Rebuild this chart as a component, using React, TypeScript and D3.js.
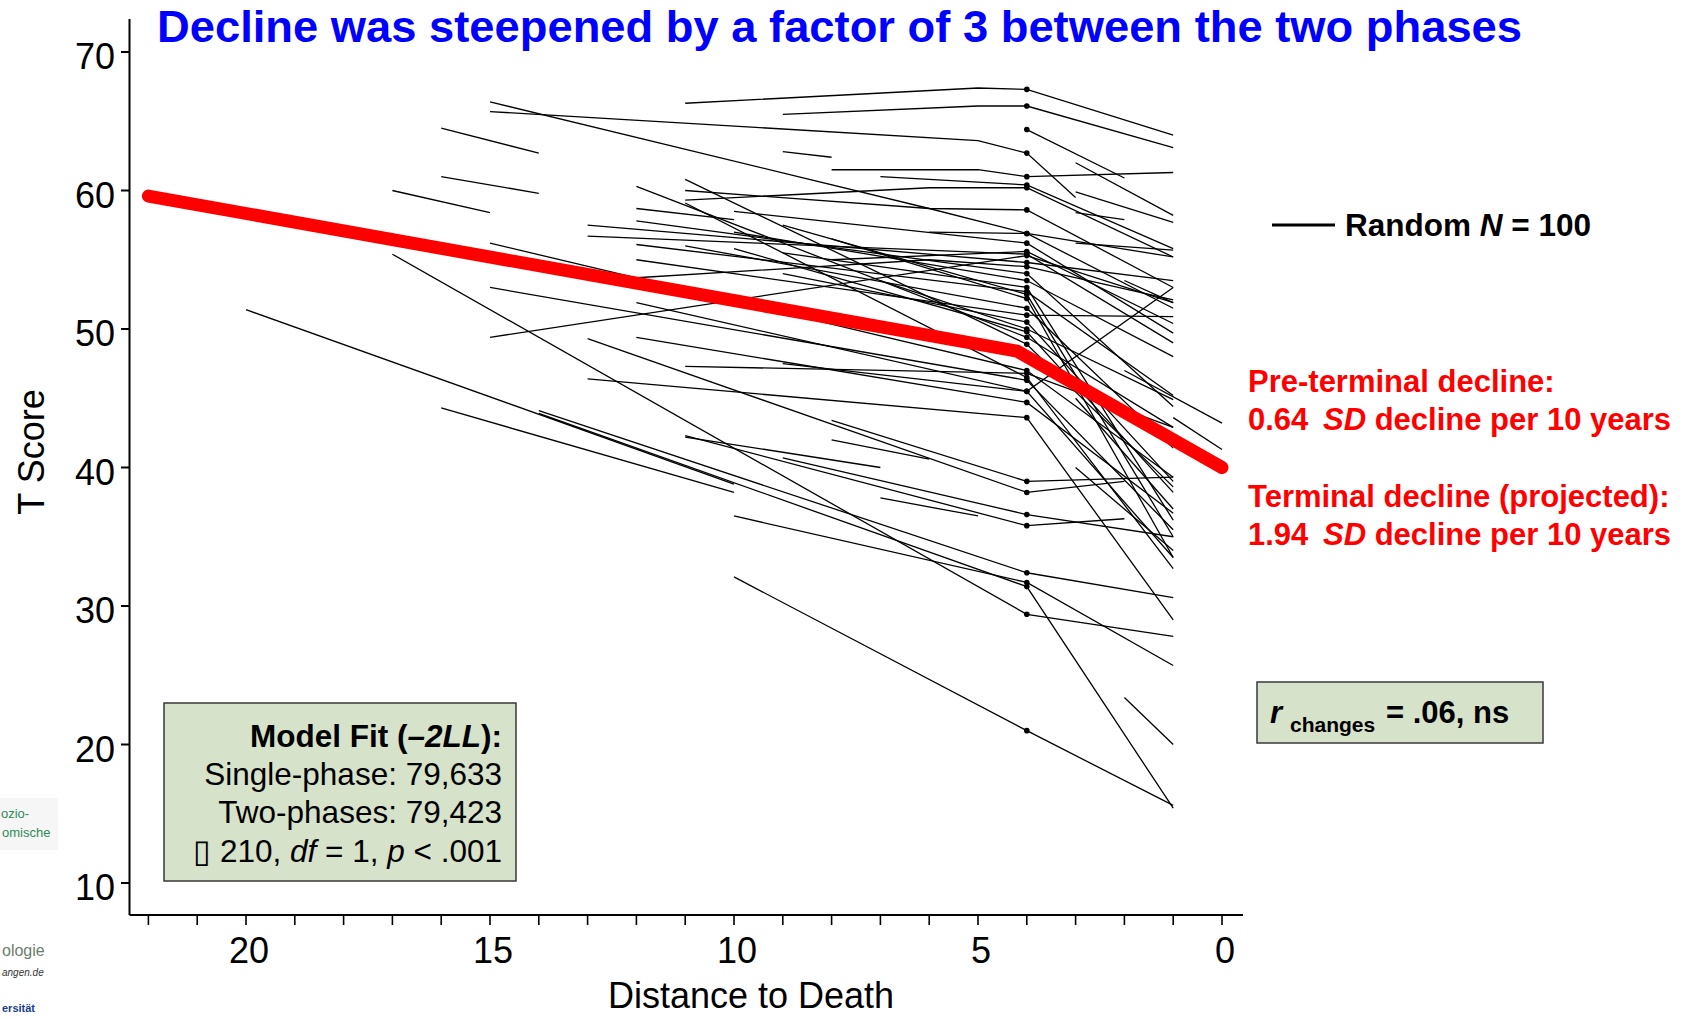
import * as d3 from 'd3';

// Werte (Jahre bis zum Tod, T-Wert)
const yTicks = [10, 20, 30, 40, 50, 60, 70];
const xTicks = d3.range(0, 23);
const xLabelTicks = [20, 15, 10, 5, 0];
const knot = 4;

// mittlere Kurve (rot)
const meanCurve: [number, number][] = [[22, 59.6], [4.2, 48.4], [0, 40.0]];

// Personen mit Messung am Knoten (Punkt bei 4 Jahren)
const throughKnot: [number, number][][] = [
  [[11, 66.3], [5, 67.4], [4, 67.3], [1, 64.0]],
  [[9, 65.5], [5, 66.1], [4, 66.1], [1, 63.1]],
  [[4, 64.4], [2, 60.9]],
  [[15, 65.7], [5, 63.6], [4, 62.7], [3, 59.5]],
  [[8, 61.5], [5, 61.5], [4, 61.0], [1, 61.3]],
  [[7, 61.0], [5, 60.6], [4, 60.4], [1, 55.8]],
  [[11, 59.3], [6, 60.2], [4, 60.2], [1, 55.2]],
  [[15, 66.4], [6, 58.7], [4, 56.9], [1, 51.5]],
  [[11, 60.0], [6, 58.7], [4, 58.6], [1, 53.0]],
  [[13, 56.7], [4, 55.4], [1, 49.0]],
  [[12, 56.1], [4, 52.7], [1, 45.2]],
  [[15, 56.2], [4, 47.0], [1, 39.3]],
  [[15, 49.4], [4, 55.3], [1, 51.9]],
  [[12, 53.7], [6, 55.0], [4, 54.5], [1, 52.1]],
  [[15, 53.0], [4, 46.3], [1, 35.5]],
  [[12, 51.9], [4, 45.5], [1, 33.5]],
  [[12, 49.4], [4, 44.7], [1, 36.7]],
  [[11, 47.3], [4, 46.8], [1, 42.9]],
  [[13, 49.3], [4, 38.2], [2, 39.0]],
  [[13, 46.4], [4, 43.6], [1, 29.0]],
  [[11, 42.3], [4, 35.8], [2, 36.3]],
  [[9, 40.7], [4, 36.6], [1, 35.0]],
  [[8, 43.4], [4, 39.0], [1, 39.3]],
  [[12, 60.3], [4, 49.4], [1, 42.9]],
  [[11, 60.8], [4, 48.9], [1, 38.6]],
  [[11, 59.1], [4, 46.5], [1, 32.7]],
  [[14, 43.9], [4, 31.4], [1, 15.4]],
  [[14, 44.1], [4, 32.4], [1, 30.6]],
  [[17, 55.4], [4, 29.4], [1, 27.8]],
  [[10, 32.1], [4, 21.0], [1, 15.6]],
  [[10, 36.5], [4, 31.7], [1, 25.7]],
  [[13, 57.5], [4, 54.8], [1, 53.5]],
  [[12, 57.8], [4, 54.0], [1, 44.4]],
  [[10, 57.0], [4, 53.5], [1, 48.0]],
  [[9, 55.5], [4, 53.0], [1, 36.2]],
  [[8, 56.5], [4, 52.2], [1, 33.5]],
  [[11, 56.0], [4, 51.5], [1, 41.4]],
  [[12, 55.0], [4, 51.0], [1, 50.9]],
  [[9, 54.0], [4, 50.5], [1, 39.0]],
  [[7, 53.5], [4, 50.0], [1, 44.9]],
  [[10, 55.8], [4, 49.8], [1, 38.2]],
  [[9, 47.5], [4, 45.5], [1, 53.0]],
  [[8, 55.0], [4, 55.6], [1, 50.4]],
  [[10, 58.5], [4, 56.2], [1, 49.7]],
  [[6, 57.0], [4, 56.9], [1, 55.2]],
  [[9, 57.5], [4, 52.5], [1, 35.0]],
];

// nur vor dem Knoten gemessen
const preOnly: [number, number][][] = [
  [[16, 64.5], [14, 62.7]],
  [[16, 61.0], [14, 59.8]],
  [[17, 60.0], [15, 58.4]],
  [[20, 51.4], [10, 38.8]],
  [[16, 44.3], [10, 38.2]],
  [[9, 62.8], [8, 62.4]],
  [[12, 58.7], [10, 57.9]],
  [[11, 42.2], [7, 40.0]],
  [[8, 42.0], [6, 40.6]],
  [[7, 37.8], [5, 36.5]],
];

// nur nach dem Knoten gemessen
const postOnly: [number, number][][] = [
  [[3, 62.0], [1, 58.2]],
  [[3, 59.9], [1, 57.7]],
  [[3, 58.4], [2, 57.9]],
  [[3, 56.2], [1, 55.7]],
  [[2, 53.5], [1, 51.9]],
  [[2, 23.4], [1, 20.0]],
  [[1, 43.6], [0, 41.3]],
  [[2, 47.0], [0, 43.2]],
  [[3, 40.0], [1, 34.0]],
  [[3, 45.0], [1, 37.0]],
];

const FONT = "'Liberation Sans', Arial, sans-serif";
const BOX_FILL = '#d7e2cb';

export default function App() {
  const x = d3.scaleLinear().domain([0, 22]).range([1222, 148.4]);
  const y = d3.scaleLinear().domain([10, 70]).range([883, 52]);
  const lineGen = d3.line<[number, number]>()
    .x((p) => x(p[0]))
    .y((p) => y(p[1]));

  const dots = throughKnot.flatMap((t) => t.filter((p) => p[0] === knot));
  const allLines = [...preOnly, ...throughKnot, ...postOnly];

  return (
    <svg
      width={1705}
      height={1019}
      style={{ position: 'absolute', left: 0, top: 0, background: '#fff' }}
      fontFamily={FONT}
    >
      {/* Logo-Reste links */}
      <rect x={0} y={798} width={58} height={52} fill="#f6f6f6" />
      <text x={1} y={818} fontSize={13} fill="#2e8b57">ozio-</text>
      <text x={2} y={837} fontSize={13} fill="#2e8b57">omische</text>
      <text x={2} y={956} fontSize={16} fill="#6d7d6d">ologie</text>
      <text x={2} y={976} fontSize={10} fontStyle="italic" fill="#333">angen.de</text>
      <text x={2} y={1012} fontSize={11} fontWeight="bold" fill="#1a3d8f">ersität</text>

      {/* Titel */}
      <text x={157} y={42} fontSize={44} fontWeight="bold" fill="#0000ff"
        textLength={1365} lengthAdjust="spacingAndGlyphs">
        Decline was steepened by a factor of 3 between the two phases
      </text>

      {/* Einzelverläufe */}
      <g fill="none" stroke="#000" strokeWidth={1.3}>
        {allLines.map((t, i) => (
          <path key={i} d={lineGen(t) || ''} />
        ))}
      </g>
      <g fill="#000">
        {dots.map((p, i) => (
          <circle key={i} cx={x(p[0])} cy={y(p[1])} r={2.8} />
        ))}
      </g>

      {/* mittlere Kurve */}
      <path d={lineGen(meanCurve) || ''} fill="none" stroke="#ff0000" strokeWidth={13}
        strokeLinecap="round" strokeLinejoin="round" />

      {/* Achsen */}
      <g stroke="#000" strokeWidth={2}>
        <line x1={129.5} x2={129.5} y1={19} y2={915} />
        <line x1={129.5} x2={1243} y1={915} y2={915} />
        {yTicks.map((t) => (
          <line key={t} x1={121} x2={129.5} y1={y(t)} y2={y(t)} />
        ))}
        {xTicks.map((t) => (
          <line key={t} x1={x(t)} x2={x(t)} y1={915} y2={925} strokeWidth={1.6} />
        ))}
      </g>
      <g fontSize={36} fill="#000">
        {yTicks.map((t) => (
          <text key={t} x={115} y={y(t) + 17} textAnchor="end">{t}</text>
        ))}
        {xLabelTicks.map((t) => (
          <text key={t} x={x(t) + 3} y={963} textAnchor="middle">{t}</text>
        ))}
        <text x={751} y={1008} textAnchor="middle">Distance to Death</text>
        <text transform="translate(44,452) rotate(-90)" textAnchor="middle">T Score</text>
      </g>

      {/* Legende */}
      <line x1={1272} x2={1335} y1={225} y2={225} stroke="#000" strokeWidth={3} />
      <text x={1345} y={236} fontSize={31.5} fontWeight="bold">
        Random <tspan fontStyle="italic">N</tspan> = 100
      </text>

      {/* Steigungen */}
      <g fill="#ff0000" fontSize={31} fontWeight="bold">
        <text x={1248} y={392}>Pre-terminal decline:</text>
        <text x={1248} y={430}>0.64 <tspan fontStyle="italic" dx={6}>SD</tspan> decline per 10 years</text>
        <text x={1248} y={507}>Terminal decline (projected):</text>
        <text x={1248} y={545}>1.94 <tspan fontStyle="italic" dx={6}>SD</tspan> decline per 10 years</text>
      </g>

      {/* r-Kasten */}
      <rect x={1257} y={682} width={286} height={61} fill={BOX_FILL} stroke="#3a3a3a" strokeWidth={1.5} />
      <text x={1270} y={723} fontSize={31} fontWeight="bold">
        <tspan fontStyle="italic">r</tspan>
        <tspan x={1290} y={732} fontSize={21}>changes</tspan>
        <tspan x={1386} y={723}>= .06, ns</tspan>
      </text>

      {/* Modellgüte */}
      <rect x={164} y={703} width={352} height={178} fill={BOX_FILL} stroke="#3a3a3a" strokeWidth={1.5} />
      <g fontSize={31.5} textAnchor="end">
        <text x={502} y={747} fontWeight="bold">
          Model Fit (<tspan fontStyle="italic">–2LL</tspan>):
        </text>
        <text x={502} y={785}>Single-phase: 79,633</text>
        <text x={502} y={823}>Two-phases: 79,423</text>
        <text x={502} y={862}>
          ▯ 210, <tspan fontStyle="italic">df</tspan> = 1, <tspan fontStyle="italic">p</tspan> &lt; .001
        </text>
      </g>
    </svg>
  );
}
